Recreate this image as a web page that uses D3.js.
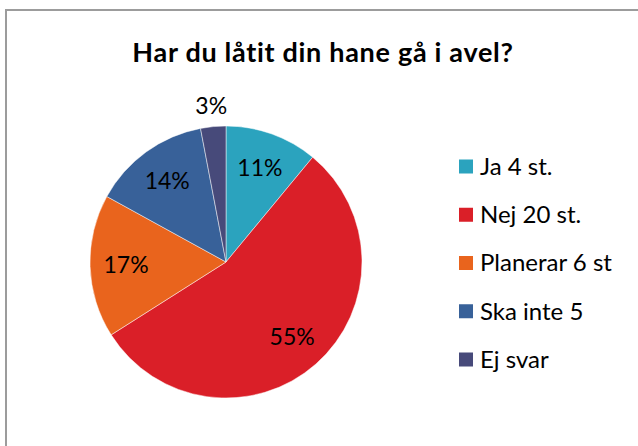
<!DOCTYPE html>
<html>
<head>
<meta charset="utf-8">
<script src="https://cdn.jsdelivr.net/npm/d3@7"></script>
<style>
  html, body { margin: 0; padding: 0; background: #fff; }
  svg { display: block; font-family: Lato, "Open Sans", sans-serif; }
</style>
</head>
<body>
<svg id="chart" width="638" height="446"></svg>
<script>
const title = "Har du låtit din hane gå i avel?";
const categories = ["Ja 4 st.", "Nej 20 st.", "Planerar 6 st", "Ska inte 5", "Ej svar"];
const percents = [11, 55, 17, 14, 3];
const colors = ["#2ba3be", "#da1f28", "#e9641d", "#386199", "#474a7a"];

const width = 638, height = 446;
const svg = d3.select("#chart");

// chart frame (right/bottom edges fall outside the window)
svg.append("rect")
  .attr("x", 6).attr("y", 10)
  .attr("width", 700).attr("height", 500)
  .attr("fill", "none")
  .attr("stroke", "#9c9c9c")
  .attr("stroke-width", 2);

svg.append("text")
  .attr("x", 323).attr("y", 62)
  .attr("text-anchor", "middle")
  .attr("font-size", 27)
  .attr("font-weight", "bold")
  .attr("letter-spacing", 0.7)
  .attr("fill", "#000")
  .text(title);

const cx = 226, cy = 262, r = 136;

const pie = d3.pie().sort(null).value(d => d);
const arcs = pie(percents);

const arc = d3.arc().innerRadius(0).outerRadius(r);
const labelIn = d3.arc().innerRadius(r * 0.735).outerRadius(r * 0.735);
const labelOut = d3.arc().innerRadius(r + 21).outerRadius(r + 21);

const g = svg.append("g").attr("transform", `translate(${cx},${cy})`);

g.selectAll("path.slice")
  .data(arcs)
  .join("path")
  .attr("class", "slice")
  .attr("d", arc)
  .attr("fill", (d, i) => colors[i])
  .attr("stroke", "#ffffff")
  .attr("stroke-opacity", 0.6)
  .attr("stroke-width", 0.8);

g.selectAll("text.lbl")
  .data(arcs)
  .join("text")
  .attr("class", "lbl")
  .attr("transform", d => {
    const p = (d.data < 5 ? labelOut : labelIn).centroid(d);
    return `translate(${p[0]},${p[1]})`;
  })
  .attr("text-anchor", "middle")
  .attr("dy", "0.36em")
  .attr("font-size", 23)
  .attr("fill", "#000")
  .text(d => d.data + "%");

// legend
const ly = d3.scalePoint()
  .domain(categories)
  .range([166.5, 359.5]);

const legend = svg.append("g");
const item = legend.selectAll("g")
  .data(categories)
  .join("g")
  .attr("transform", d => `translate(459,${ly(d)})`);

item.append("rect")
  .attr("x", 0).attr("y", -7)
  .attr("width", 14).attr("height", 14)
  .attr("fill", (d, i) => colors[i]);

item.append("text")
  .attr("x", 21)
  .attr("dy", "0.35em")
  .attr("font-size", 24)
  .attr("fill", "#000")
  .text(d => d);
</script>
</body>
</html>
